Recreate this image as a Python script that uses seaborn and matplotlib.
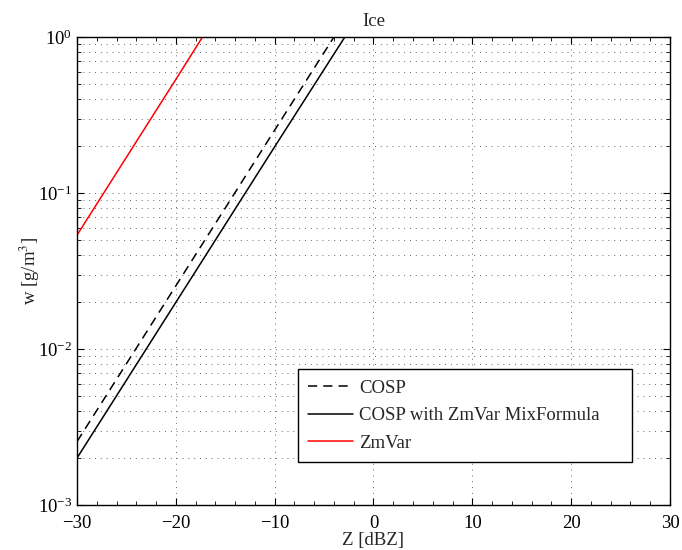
import matplotlib
matplotlib.use("Agg")
import matplotlib.pyplot as plt
import matplotlib.ticker as mticker
import numpy as np
import pandas as pd
import seaborn as sns

# Reflectivity (dBZ) and ice water content (g/m^3) for each retrieval
z_cosp = [-30.0, -20.0, -10.0, -4.0]
w_cosp = [0.00255, 0.0254, 0.253, 1.0]

z_mix = [-30.0, -20.0, -10.0, -2.9]
w_mix = [0.0020, 0.0199, 0.198, 1.0]

z_zmvar = [-30.0, -20.0, -17.3]
w_zmvar = [0.0537, 0.535, 1.0]

labels = ["COSP", "COSP with ZmVar MixFormula", "ZmVar"]

frames = []
for lab, z, w in zip(labels, [z_cosp, z_mix, z_zmvar], [w_cosp, w_mix, w_zmvar]):
    frames.append(pd.DataFrame({"Z": z, "w": w, "series": lab}))
df = pd.concat(frames, ignore_index=True)

sns.set_theme(style="ticks")
plt.rcParams["font.family"] = ["Liberation Serif", "DejaVu Serif"]
plt.rcParams["mathtext.fontset"] = "stix"

fig = plt.figure(figsize=(6.82, 5.5), dpi=100)
ax = fig.add_axes([0.1129, 0.0818, 0.8695, 0.8509])

palette = {"COSP": "black", "COSP with ZmVar MixFormula": "black", "ZmVar": "#ff0000"}
dashes = {"COSP": (6, 4), "COSP with ZmVar MixFormula": "", "ZmVar": ""}
sns.lineplot(data=df, x="Z", y="w", hue="series", style="series",
             palette=palette, dashes=dashes, linewidth=1.1, ax=ax, sort=False)

ax.set_yscale("log")
ax.set_xlim(-30, 30)
ax.set_ylim(1e-3, 1e0)
ax.set_xticks(np.arange(-30, 31, 10))
ax.xaxis.set_minor_locator(mticker.MultipleLocator(2))
ax.yaxis.set_major_locator(mticker.LogLocator(base=10, numticks=10))
ax.yaxis.set_minor_locator(mticker.LogLocator(base=10, subs=np.arange(2, 10), numticks=10))
ax.yaxis.set_minor_formatter(mticker.NullFormatter())
ax.xaxis.set_major_formatter(mticker.FuncFormatter(lambda v, p: f"{int(v)}".replace("-", "\u2212")))

grid_style = dict(linestyle=(0, (1, 5)), color="#666666", linewidth=0.7)
ax.grid(True, which="major", axis="both", **grid_style)
ax.grid(True, which="minor", axis="y", **grid_style)

ax.tick_params(which="both", direction="in", top=True, right=True, labelsize=13.5, colors="black")
ax.tick_params(which="major", length=5, width=0.8)
ax.tick_params(which="minor", length=3, width=0.6)
ax.tick_params(axis="x", which="major", pad=7)
for s in ax.spines.values():
    s.set_linewidth(1.0)
    s.set_color("black")

ax.set_title("Ice", fontsize=13.5, pad=8)
ax.set_xlabel("Z [dBZ]", fontsize=13.5, labelpad=0)
ax.set_ylabel("w [g/m$^{3}$]", fontsize=13.5, labelpad=-3)

leg = ax.legend(loc="lower left", bbox_to_anchor=(0.373, 0.092, 0.563, 0.196),
                mode="expand", borderaxespad=0,
                fontsize=13.5, frameon=True, fancybox=False, framealpha=1,
                edgecolor="black", handlelength=2.4, handletextpad=0.3,
                borderpad=0.55, labelspacing=0.55, title=None)
leg.get_frame().set_linewidth(1.0)

fig.savefig("out.png", dpi=100)
